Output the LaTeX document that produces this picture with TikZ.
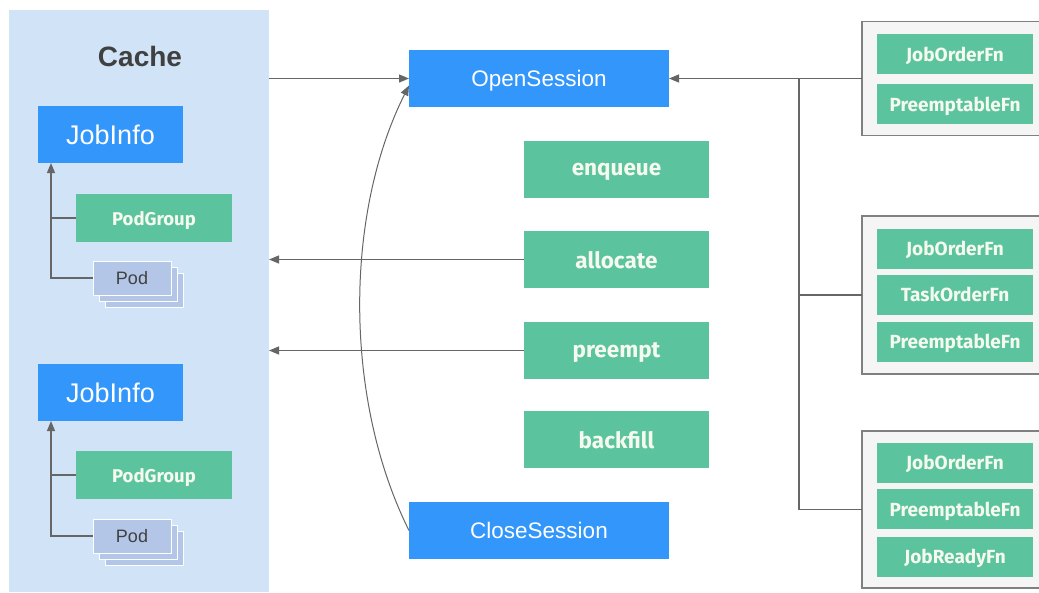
\documentclass[tikz,border=0pt]{standalone}
\usepackage{fontspec}
\setmainfont{Liberation Sans}
\newfontfamily\gfont{Fira Sans}
\usetikzlibrary{arrows.meta}
\definecolor{cachebg}{RGB}{208,227,247}
\definecolor{bluebox}{RGB}{51,150,250}
\definecolor{greenbox}{RGB}{91,196,159}
\definecolor{podfill}{RGB}{180,198,231}
\definecolor{linegray}{RGB}{102,102,102}
\definecolor{grpfill}{RGB}{245,245,245}
\definecolor{grpdraw}{RGB}{128,128,128}
\definecolor{titlegray}{RGB}{64,64,64}
\definecolor{gtext}{RGB}{246,250,238}
\tikzset{
  box/.style={rectangle, inner sep=0pt, outer sep=0pt, text depth=0pt},
  bluenode/.style={box, fill=bluebox, text=white, minimum width=260pt, minimum height=57pt, font=\fontsize{22.5}{26}\selectfont},
  jobnode/.style={box, fill=bluebox, text=white, minimum width=145pt, minimum height=57pt, font=\fontsize{27}{30}\selectfont},
  actnode/.style={box, fill=greenbox, text=gtext, minimum width=185pt, minimum height=57pt, font=\gfont\bfseries\fontsize{22.5}{25}\selectfont},
  pgnode/.style={box, fill=greenbox, text=gtext, minimum width=156pt, minimum height=48pt, font=\gfont\bfseries\fontsize{18.5}{21}\selectfont},
  fnnode/.style={box, fill=greenbox, text=gtext, minimum width=156pt, minimum height=40pt, font=\gfont\bfseries\fontsize{19}{21}\selectfont},
  podnode/.style={box, fill=podfill, draw=white, line width=1pt, minimum width=78pt, minimum height=34pt, text=titlegray, font=\fontsize{18}{21}\selectfont},
  grpnode/.style={box, fill=grpfill, draw=grpdraw, line width=1.2pt, minimum width=183pt},
  conn/.style={draw=linegray, line width=1.2pt},
  arr/.style={conn, -{Triangle[length=10pt,width=8pt]}},
}
\begin{document}
\begin{tikzpicture}[x=1pt,y=-1pt]
\clip (0,0) rectangle (1039,592);
\useasboundingbox (0,0) rectangle (1039,592);
\fill[white] (0,0) rectangle (1039,592);

% Cache panel
\node[box, fill=cachebg, minimum width=260pt, minimum height=582pt] (cache) at (139,301) {};
\node[font=\bfseries\fontsize{28}{31}\selectfont, text=titlegray, text depth=0pt] (cachetitle) at (140,56) {Cache};

% first job
\node[jobnode] (job1) at (110.5,134.5) {JobInfo};
\node[pgnode] (pg1) at (154,218) {PodGroup};
\node[podnode] (pod1c) at (144,290) {};
\node[podnode] (pod1b) at (138,284) {};
\node[podnode] (pod1) at (132,278) {Pod};
\coordinate (v1) at ([xshift=-59.5pt]job1.south);
\draw[arr] (pod1.west) -| (v1);
\draw[conn] (pg1.west) -- (pg1.west -| v1);

% second job
\node[jobnode] (job2) at (110.5,392.5) {JobInfo};
\node[pgnode] (pg2) at (154,475) {PodGroup};
\node[podnode] (pod2c) at (144,548) {};
\node[podnode] (pod2b) at (138,542) {};
\node[podnode] (pod2) at (132,536) {Pod};
\coordinate (v2) at ([xshift=-59.5pt]job2.south);
\draw[arr] (pod2.west) -| (v2);
\draw[conn] (pg2.west) -- (pg2.west -| v2);

% session
\node[bluenode] (open) at (539,78.5) {OpenSession};
\node[bluenode] (close) at (539,530.5) {CloseSession};
\node[actnode] (enqueue) at (616.5,169.5) {enqueue};
\node[actnode] (allocate) at (616.5,259.5) {allocate};
\node[actnode] (preempt) at (616.5,350.5) {preempt};
\node[actnode] (backfill) at (616.5,439.5) {backfill};

\draw[arr] (cache.east |- open.west) -- (open.west);
\draw[arr] (allocate.west) -- (allocate.west -| cache.east);
\draw[arr] (preempt.west) -- (preempt.west -| cache.east);
\draw[arr, line width=1pt] (close.west) .. controls (344,400) and (344,215) .. ([yshift=-7pt]open.west);

% plugin groups
\node[grpnode, minimum height=114pt] (g1) at (953.5,78.5) {};
\node[fnnode] (g1a) at (955,54) {JobOrderFn};
\node[fnnode] (g1b) at (955,104) {PreemptableFn};

\node[grpnode, minimum height=158pt] (g2) at (953.5,295) {};
\node[fnnode] (g2a) at (955,248.5) {JobOrderFn};
\node[fnnode] (g2b) at (955,294.5) {TaskOrderFn};
\node[fnnode] (g2c) at (955,341.5) {PreemptableFn};

\node[grpnode, minimum height=157pt] (g3) at (953.5,509.5) {};
\node[fnnode] (g3a) at (955,462.5) {JobOrderFn};
\node[fnnode] (g3b) at (955,509) {PreemptableFn};
\node[fnnode] (g3c) at (955,556.5) {JobReadyFn};

\coordinate (bus) at (799,78.5);
\draw[arr] (g1.west) -- (open.east);
\draw[conn] (g3.west) -| (bus);
\draw[conn] (g2.west) -- (g2.west -| bus);
\end{tikzpicture}
\end{document}
